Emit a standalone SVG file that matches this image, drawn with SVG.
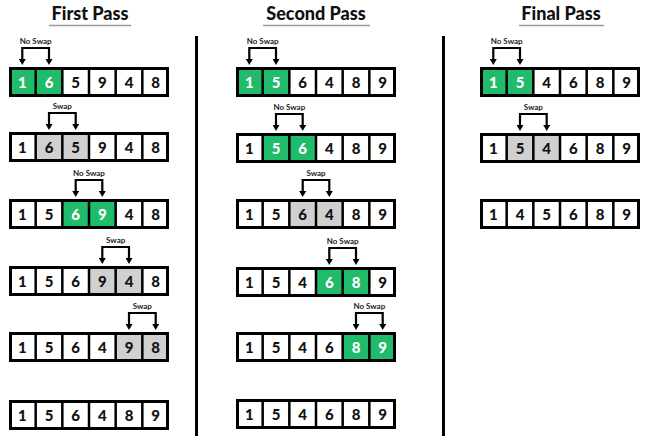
<svg xmlns="http://www.w3.org/2000/svg" xmlns:xlink="http://www.w3.org/1999/xlink" width="650" height="436" viewBox="0 0 650 436">
<style>
.title{font-family:Lato,"Liberation Sans",sans-serif;font-weight:900;font-size:18px;fill:#111;text-anchor:middle}
.uline{stroke:#9a9a9a;stroke-width:1.3}
.sep{stroke:#000;stroke-width:3}
.g{fill:#20bc6b}
.s{fill:#d0d0d0}
.d{font-family:Lato,"Liberation Sans",sans-serif;font-weight:900;font-size:15px;fill:#111;text-anchor:middle}
.w{fill:#fff}
.lbl{font-family:Lato,"Liberation Sans",sans-serif;font-weight:700;font-size:8px;fill:#222;text-anchor:middle}
.br{fill:none;stroke:#000;stroke-width:2.2;marker-start:url(#ah);marker-end:url(#ah)}
</style>
<defs>
<marker id="ah" markerUnits="userSpaceOnUse" markerWidth="6" markerHeight="7" viewBox="0 0 6 7" refX="0" refY="3.5" orient="auto-start-reverse"><path d="M0,0L6,3.5L0,7z" fill="#000"/></marker>
<g id="frame"><rect x="1.5" y="1.5" width="157" height="27" fill="none" stroke="#000" stroke-width="3"/><path d="M26.67 0V30M53.33 0V30M80 0V30M106.67 0V30M133.33 0V30" stroke="#000" stroke-width="2.5"/></g>
</defs>
<rect width="650" height="436" fill="#fff"/>
<g id="titles">
<text class="title" x="90" y="19.5">First Pass</text>
<line class="uline" x1="49" y1="25.5" x2="131" y2="25.5"/>
<text class="title" x="316" y="19.5">Second Pass</text>
<line class="uline" x1="263" y1="25.5" x2="370" y2="25.5"/>
<text class="title" x="561" y="19.5">Final Pass</text>
<line class="uline" x1="519" y1="25.5" x2="604" y2="25.5"/>
</g>
<g id="separators">
<line class="sep" x1="196.5" y1="36" x2="196.5" y2="436"/>
<line class="sep" x1="443.5" y1="36" x2="443.5" y2="436"/>
</g>
<!-- First pass -->
<g id="p1r1" transform="translate(9,67)">
<rect class="g" x="0" y="0" width="26.67" height="30"/><rect class="g" x="26.67" y="0" width="26.67" height="30"/>
<use xlink:href="#frame"/>
<text class="d w" x="13.33" y="20.5">1</text><text class="d w" x="40" y="20.5">6</text><text class="d" x="66.67" y="20.5">5</text><text class="d" x="93.33" y="20.5">9</text><text class="d" x="120" y="20.5">4</text><text class="d" x="146.67" y="20.5">8</text>
</g>
<g id="p1r2" transform="translate(9,132)">
<rect class="s" x="26.67" y="0" width="26.67" height="30"/><rect class="s" x="53.33" y="0" width="26.67" height="30"/>
<use xlink:href="#frame"/>
<text class="d" x="13.33" y="20.5">1</text><text class="d" x="40" y="20.5">6</text><text class="d" x="66.67" y="20.5">5</text><text class="d" x="93.33" y="20.5">9</text><text class="d" x="120" y="20.5">4</text><text class="d" x="146.67" y="20.5">8</text>
</g>
<g id="p1r3" transform="translate(9,199)">
<rect class="g" x="53.33" y="0" width="26.67" height="30"/><rect class="g" x="80" y="0" width="26.67" height="30"/>
<use xlink:href="#frame"/>
<text class="d" x="13.33" y="20.5">1</text><text class="d" x="40" y="20.5">5</text><text class="d w" x="66.67" y="20.5">6</text><text class="d w" x="93.33" y="20.5">9</text><text class="d" x="120" y="20.5">4</text><text class="d" x="146.67" y="20.5">8</text>
</g>
<g id="p1r4" transform="translate(9,266)">
<rect class="s" x="80" y="0" width="26.67" height="30"/><rect class="s" x="106.67" y="0" width="26.67" height="30"/>
<use xlink:href="#frame"/>
<text class="d" x="13.33" y="20.5">1</text><text class="d" x="40" y="20.5">5</text><text class="d" x="66.67" y="20.5">6</text><text class="d" x="93.33" y="20.5">9</text><text class="d" x="120" y="20.5">4</text><text class="d" x="146.67" y="20.5">8</text>
</g>
<g id="p1r5" transform="translate(9,332)">
<rect class="s" x="106.67" y="0" width="26.67" height="30"/><rect class="s" x="133.33" y="0" width="26.67" height="30"/>
<use xlink:href="#frame"/>
<text class="d" x="13.33" y="20.5">1</text><text class="d" x="40" y="20.5">5</text><text class="d" x="66.67" y="20.5">6</text><text class="d" x="93.33" y="20.5">4</text><text class="d" x="120" y="20.5">9</text><text class="d" x="146.67" y="20.5">8</text>
</g>
<g id="p1r6" transform="translate(9,400)">
<use xlink:href="#frame"/>
<text class="d" x="13.33" y="20.5">1</text><text class="d" x="40" y="20.5">5</text><text class="d" x="66.67" y="20.5">6</text><text class="d" x="93.33" y="20.5">4</text><text class="d" x="120" y="20.5">8</text><text class="d" x="146.67" y="20.5">9</text>
</g>
<!-- Second pass -->
<g id="p2r1" transform="translate(236,67)">
<rect class="g" x="0" y="0" width="26.67" height="30"/><rect class="g" x="26.67" y="0" width="26.67" height="30"/>
<use xlink:href="#frame"/>
<text class="d w" x="13.33" y="20.5">1</text><text class="d w" x="40" y="20.5">5</text><text class="d" x="66.67" y="20.5">6</text><text class="d" x="93.33" y="20.5">4</text><text class="d" x="120" y="20.5">8</text><text class="d" x="146.67" y="20.5">9</text>
</g>
<g id="p2r2" transform="translate(236,133)">
<rect class="g" x="26.67" y="0" width="26.67" height="30"/><rect class="g" x="53.33" y="0" width="26.67" height="30"/>
<use xlink:href="#frame"/>
<text class="d" x="13.33" y="20.5">1</text><text class="d w" x="40" y="20.5">5</text><text class="d w" x="66.67" y="20.5">6</text><text class="d" x="93.33" y="20.5">4</text><text class="d" x="120" y="20.5">8</text><text class="d" x="146.67" y="20.5">9</text>
</g>
<g id="p2r3" transform="translate(236,199)">
<rect class="s" x="53.33" y="0" width="26.67" height="30"/><rect class="s" x="80" y="0" width="26.67" height="30"/>
<use xlink:href="#frame"/>
<text class="d" x="13.33" y="20.5">1</text><text class="d" x="40" y="20.5">5</text><text class="d" x="66.67" y="20.5">6</text><text class="d" x="93.33" y="20.5">4</text><text class="d" x="120" y="20.5">8</text><text class="d" x="146.67" y="20.5">9</text>
</g>
<g id="p2r4" transform="translate(236,267)">
<rect class="g" x="80" y="0" width="26.67" height="30"/><rect class="g" x="106.67" y="0" width="26.67" height="30"/>
<use xlink:href="#frame"/>
<text class="d" x="13.33" y="20.5">1</text><text class="d" x="40" y="20.5">5</text><text class="d" x="66.67" y="20.5">4</text><text class="d w" x="93.33" y="20.5">6</text><text class="d w" x="120" y="20.5">8</text><text class="d" x="146.67" y="20.5">9</text>
</g>
<g id="p2r5" transform="translate(236,332)">
<rect class="g" x="106.67" y="0" width="26.67" height="30"/><rect class="g" x="133.33" y="0" width="26.67" height="30"/>
<use xlink:href="#frame"/>
<text class="d" x="13.33" y="20.5">1</text><text class="d" x="40" y="20.5">5</text><text class="d" x="66.67" y="20.5">4</text><text class="d" x="93.33" y="20.5">6</text><text class="d w" x="120" y="20.5">8</text><text class="d w" x="146.67" y="20.5">9</text>
</g>
<g id="p2r6" transform="translate(236,399)">
<use xlink:href="#frame"/>
<text class="d" x="13.33" y="20.5">1</text><text class="d" x="40" y="20.5">5</text><text class="d" x="66.67" y="20.5">4</text><text class="d" x="93.33" y="20.5">6</text><text class="d" x="120" y="20.5">8</text><text class="d" x="146.67" y="20.5">9</text>
</g>
<!-- Final pass -->
<g id="p3r1" transform="translate(480,67)">
<rect class="g" x="0" y="0" width="26.67" height="30"/><rect class="g" x="26.67" y="0" width="26.67" height="30"/>
<use xlink:href="#frame"/>
<text class="d w" x="13.33" y="20.5">1</text><text class="d w" x="40" y="20.5">5</text><text class="d" x="66.67" y="20.5">4</text><text class="d" x="93.33" y="20.5">6</text><text class="d" x="120" y="20.5">8</text><text class="d" x="146.67" y="20.5">9</text>
</g>
<g id="p3r2" transform="translate(480,133)">
<rect class="s" x="26.67" y="0" width="26.67" height="30"/><rect class="s" x="53.33" y="0" width="26.67" height="30"/>
<use xlink:href="#frame"/>
<text class="d" x="13.33" y="20.5">1</text><text class="d" x="40" y="20.5">5</text><text class="d" x="66.67" y="20.5">4</text><text class="d" x="93.33" y="20.5">6</text><text class="d" x="120" y="20.5">8</text><text class="d" x="146.67" y="20.5">9</text>
</g>
<g id="p3r3" transform="translate(480,199)">
<use xlink:href="#frame"/>
<text class="d" x="13.33" y="20.5">1</text><text class="d" x="40" y="20.5">4</text><text class="d" x="66.67" y="20.5">5</text><text class="d" x="93.33" y="20.5">6</text><text class="d" x="120" y="20.5">8</text><text class="d" x="146.67" y="20.5">9</text>
</g>
<g id="connectors">
<path class="br" d="M22.3 59V48H49V59"/><text class="lbl" x="35.7" y="44">No Swap</text>
<path class="br" d="M49 124V113H75.7V124"/><text class="lbl" x="62.3" y="109">Swap</text>
<path class="br" d="M75.7 191V180H102.3V191"/><text class="lbl" x="89" y="176">No Swap</text>
<path class="br" d="M102.3 258V247H129V258"/><text class="lbl" x="115.7" y="243">Swap</text>
<path class="br" d="M129 324V313H155.7V324"/><text class="lbl" x="142.3" y="309">Swap</text>
<path class="br" d="M249.3 59V48H276V59"/><text class="lbl" x="262.7" y="44">No Swap</text>
<path class="br" d="M276 125V114H302.7V125"/><text class="lbl" x="289.3" y="110">No Swap</text>
<path class="br" d="M302.7 191V180H329.3V191"/><text class="lbl" x="316" y="176">Swap</text>
<path class="br" d="M329.3 259V248H356V259"/><text class="lbl" x="342.7" y="244">No Swap</text>
<path class="br" d="M356 324V313H382.7V324"/><text class="lbl" x="369.3" y="309">No Swap</text>
<path class="br" d="M493.3 59V48H520V59"/><text class="lbl" x="506.7" y="44">No Swap</text>
<path class="br" d="M520 125V114H546.7V125"/><text class="lbl" x="533.3" y="110">Swap</text>
</g>
</svg>
